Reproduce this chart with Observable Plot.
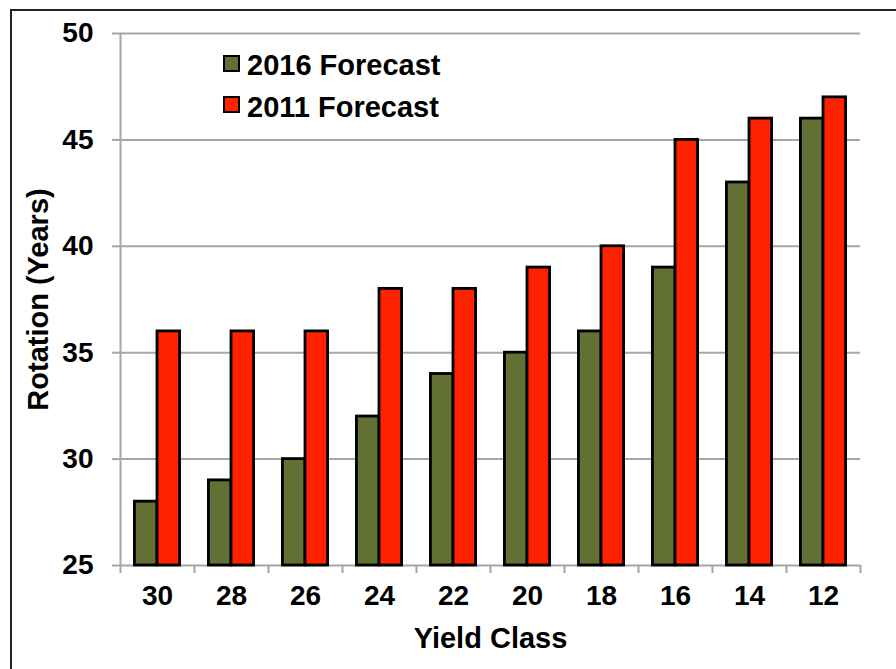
<!DOCTYPE html>
<html>
<head>
<meta charset="utf-8">
<script src="https://cdn.jsdelivr.net/npm/d3@7"></script>
<script src="https://cdn.jsdelivr.net/npm/@observablehq/plot@0.6"></script>
<style>
  html, body { margin: 0; padding: 0; background: #fff; overflow: hidden; }
  #wrap { position: relative; width: 896px; height: 669px; overflow: hidden; font-family: "Liberation Sans", Arial, sans-serif; }
  #frame { position: absolute; left: 10px; top: 9px; width: 1000px; height: 1000px; border: 2px solid #222; box-sizing: border-box; pointer-events: none; }
  .lg-sw { position: absolute; width: 17px; height: 17px; border: 2px solid #000; box-sizing: border-box; }
  .lg-tx { position: absolute; font-size: 29px; font-weight: bold; line-height: 29px; white-space: nowrap; color: #000; }
  svg g[aria-label="y-axis"] line, svg g[aria-label="x-axis"] line,
  svg g[aria-label="y-axis tick"], svg g[aria-label="x-axis tick"] { stroke: #a6a6a6; stroke-width: 2px; }
</style>
</head>
<body>
<div id="wrap"><div id="frame"></div></div>
<script>
const categories = ["30", "28", "26", "24", "22", "20", "18", "16", "14", "12"];
const forecast2016 = [28, 29, 30, 32, 34, 35, 36, 39, 43, 46];
const forecast2011 = [36, 36, 36, 38, 38, 39, 40, 45, 46, 47];
const yTicks = [25, 30, 35, 40, 45, 50];
const seriesNames = ["2016 Forecast", "2011 Forecast"];
const seriesColors = ["#627133", "#ff2200"];

// bar slots inside each category band (fraction of the band)
const slots = [[0.195, 0.5], [0.5, 0.805]];
const rows = categories.flatMap((c, i) => [
  {cat: c, series: seriesNames[0], value: forecast2016[i], x1: i + slots[0][0], x2: i + slots[0][1]},
  {cat: c, series: seriesNames[1], value: forecast2011[i], x1: i + slots[1][0], x2: i + slots[1][1]}
]);
const grid = "#a6a6a6";

const chart = Plot.plot({
  width: 896,
  height: 669,
  marginLeft: 120,
  marginRight: 36,
  marginTop: 33,
  marginBottom: 104,
  style: {fontFamily: "'Liberation Sans', Arial, sans-serif", fontSize: "28px", fontWeight: "bold", color: "#000", background: "transparent"},
  x: {domain: [0, categories.length], ticks: d3.range(categories.length + 1), tickFormat: () => "", tickSize: 8, label: null},
  y: {domain: [25, 50], ticks: yTicks, tickSize: 8, tickPadding: 19, label: null},
  color: {domain: seriesNames, range: seriesColors},
  marks: [
    Plot.ruleY(yTicks, {y: d => d, stroke: grid, strokeWidth: 2}),
    Plot.ruleX([0], {x: d => d, stroke: grid, strokeWidth: 2}),
    Plot.rect(rows, {x1: "x1", x2: "x2", y1: 25, y2: "value", fill: "series", stroke: "#000", strokeWidth: 2.8}),
    Plot.text(categories, {x: (d, i) => i + 0.5, text: d => d, frameAnchor: "bottom", dy: 39, fontSize: 28, fontWeight: "bold", fill: "#000"}),
    Plot.text(["Yield Class"], {frameAnchor: "bottom", textAnchor: "middle", dy: 82, fontSize: 29, fontWeight: "bold", fill: "#000"}),
    Plot.text(["Rotation (Years)"], {frameAnchor: "left", textAnchor: "middle", dx: -82, rotate: -90, fontSize: 29, fontWeight: "bold", fill: "#000"})
  ]
});
chart.style.position = "absolute";
chart.style.left = "0px";
chart.style.top = "0px";
const wrap = document.getElementById("wrap");
wrap.insertBefore(chart, wrap.firstChild);

const legendTops = [[55, 51], [96, 93]];
seriesNames.forEach((name, k) => {
  const sw = document.createElement("div");
  sw.className = "lg-sw";
  sw.style.left = "223px";
  sw.style.top = legendTops[k][0] + "px";
  sw.style.background = seriesColors[k];
  wrap.appendChild(sw);
  const tx = document.createElement("div");
  tx.className = "lg-tx";
  tx.style.left = "247px";
  tx.style.top = legendTops[k][1] + "px";
  tx.textContent = name;
  wrap.appendChild(tx);
});
</script>
</body>
</html>
